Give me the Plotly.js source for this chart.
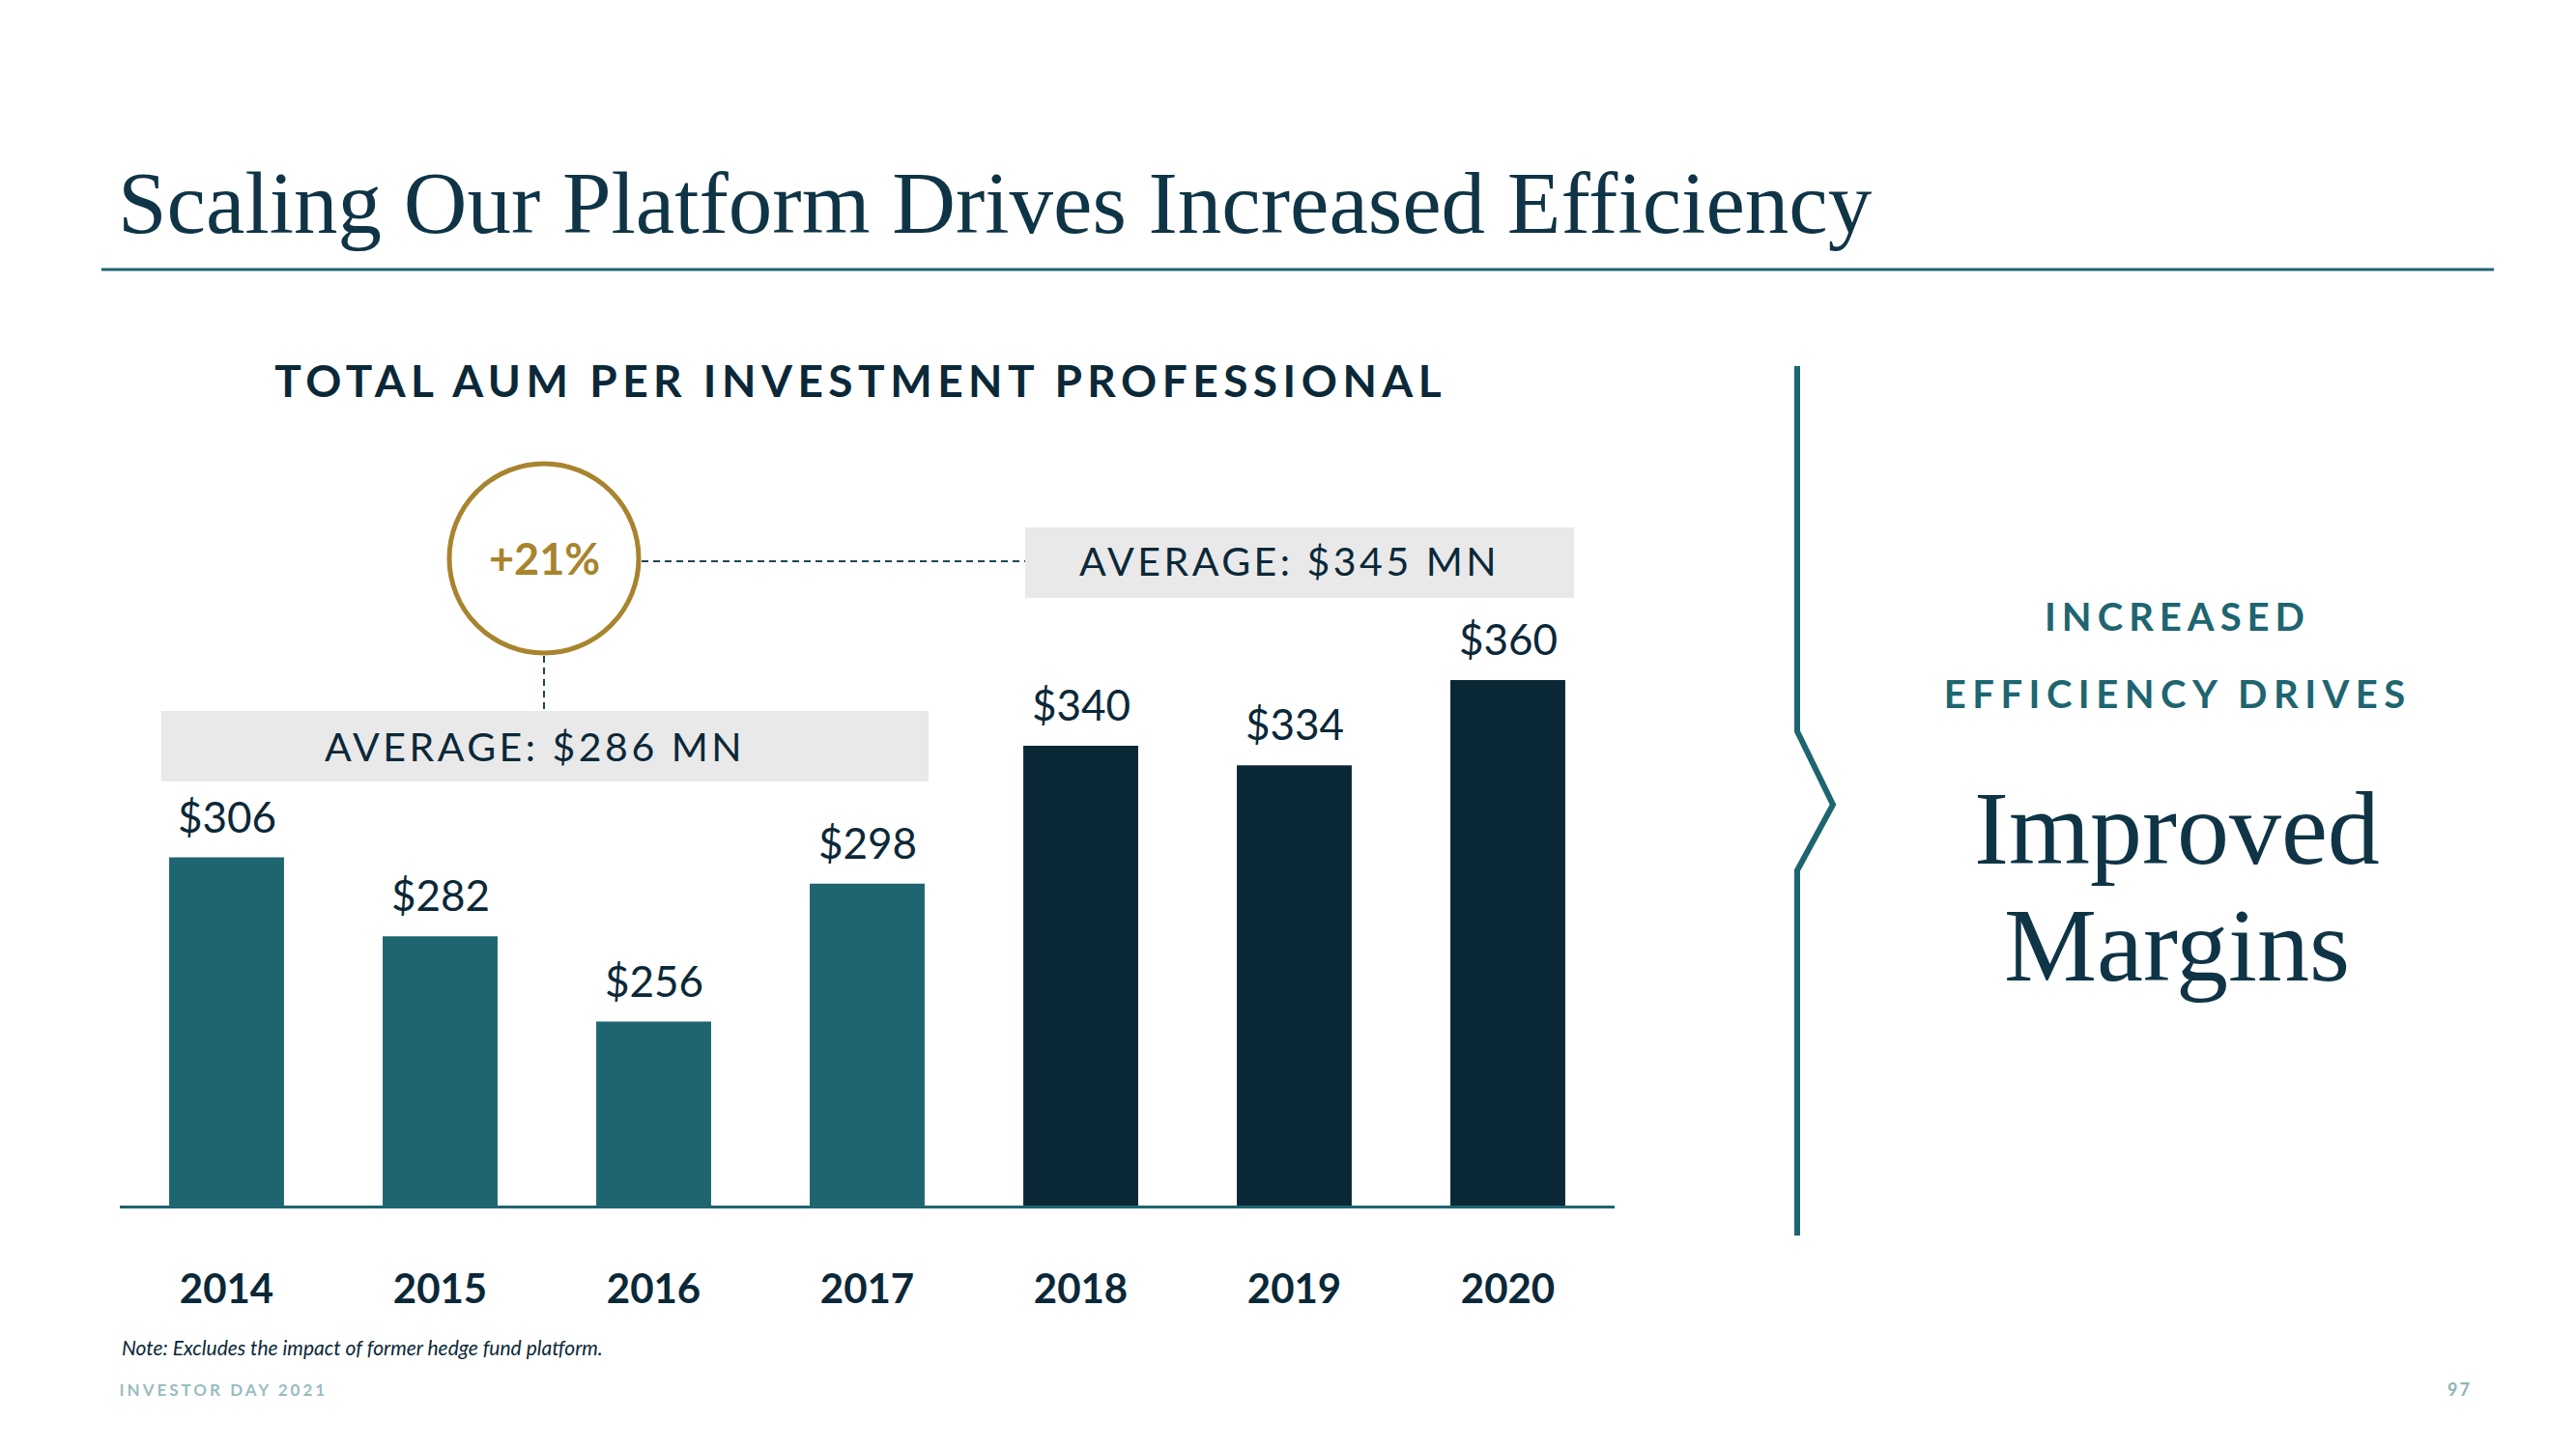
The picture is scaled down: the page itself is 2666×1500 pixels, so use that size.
<!DOCTYPE html>
<html>
<head>
<meta charset="utf-8">
<script src="https://cdn.plot.ly/plotly-3.0.1.min.js"></script>
<style>
  html, body { margin: 0; padding: 0; background: #ffffff; }
  #chart { width: 2666px; height: 1500px; }
</style>
</head>
<body>
<div id="chart"></div>
<script>
// ---- data ----
const years = ['2014', '2015', '2016', '2017', '2018', '2019', '2020'];
const aumPerPro = [306, 282, 256, 298, 340, 334, 360];
const periodGroup = ['early', 'early', 'early', 'early', 'late', 'late', 'late'];
const averages = [286, 345];
const growthPct = 21;

// ---- styling ----
const TEAL = '#1e6570';
const NAVY = '#0a2736';
const TEXT = '#0b2838';
const GOLD = '#a8842f';
const GRAY = '#e9e9e9';
const SANS = 'Lato, "Open Sans", sans-serif';
const SERIF = '"Liberation Serif", "DejaVu Serif", serif';
const W = 2666, H = 1500;
const px = x => x / W;
const py = y => 1 - y / H;

const barColors = periodGroup.map(g => g === 'early' ? TEAL : NAVY);

const trace = {
  type: 'bar',
  x: years,
  y: aumPerPro,
  marker: { color: barColors, line: { width: 0 } },
  hoverinfo: 'x+y',
  showlegend: false
};

const annotations = [];
// value labels above bars (category axis: position by category index)
years.forEach((yr, i) => {
  annotations.push({
    x: i, y: aumPerPro[i], xref: 'x', yref: 'y',
    text: '$' + aumPerPro[i], showarrow: false,
    yshift: 43, xanchor: 'center', yanchor: 'middle',
    font: { family: SANS, size: 44, color: TEXT }
  });
});

function txt(text, x, y, font, xanchor) {
  annotations.push({
    xref: 'paper', yref: 'paper', x: x, y: y, text: text, showarrow: false,
    xanchor: xanchor || 'center', yanchor: 'middle', font: font
  });
}

// Title & subtitle
txt('Scaling Our Platform Drives Increased Efficiency', px(120), py(210),
    { family: SERIF, size: 91, color: '#0f3446' }, 'left');
txt('TOTAL AUM PER INVESTMENT PROFESSIONAL', px(891), py(394),
    { family: SANS, size: 46, color: TEXT, weight: 700 });

// Average labels
txt('AVERAGE: $' + averages[0] + ' MN', px(553), py(772),
    { family: SANS, size: 41, color: TEXT });
txt('AVERAGE: $' + averages[1] + ' MN', px(1334), py(580),
    { family: SANS, size: 41, color: TEXT });
txt('+' + growthPct + '%', px(563), py(578),
    { family: SANS, size: 45, color: GOLD, weight: 700 });

// Right side
txt('INCREASED', px(2253), py(638), { family: SANS, size: 40, color: TEAL, weight: 700 });
txt('EFFICIENCY DRIVES', px(2253), py(718), { family: SANS, size: 40, color: TEAL, weight: 700 });
txt('Improved', px(2253), py(858), { family: SERIF, size: 108, color: '#0f3446' });
txt('Margins', px(2253), py(978), { family: SERIF, size: 108, color: '#0f3446' });

// Footer
txt('Note: Excludes the impact of former hedge fund platform.', px(124), py(1394),
    { family: SANS, size: 21, color: TEXT, style: 'italic' }, 'left');
txt('INVESTOR DAY 2021', px(231), py(1438),
    { family: SANS, size: 17, color: '#99bcbf', weight: 700 });
txt('97', px(2545), py(1438),
    { family: SANS, size: 18, color: '#8fb3b6', weight: 700 });

const shapes = [
  // title rule
  { type: 'line', xref: 'paper', yref: 'paper', x0: px(105), x1: px(2581), y0: py(279), y1: py(279),
    line: { color: TEAL, width: 3 } },
  // gray average boxes
  { type: 'rect', xref: 'paper', yref: 'paper', x0: px(167), x1: px(961), y0: py(809), y1: py(736),
    fillcolor: GRAY, line: { width: 0 }, layer: 'below' },
  { type: 'rect', xref: 'paper', yref: 'paper', x0: px(1061), x1: px(1629), y0: py(619), y1: py(546),
    fillcolor: GRAY, line: { width: 0 }, layer: 'below' },
  // growth circle
  { type: 'circle', xref: 'paper', yref: 'paper', x0: px(465), x1: px(661), y0: py(676), y1: py(480),
    line: { color: GOLD, width: 5 }, fillcolor: 'rgba(0,0,0,0)' },
  // dashed connectors
  { type: 'line', xref: 'paper', yref: 'paper', x0: px(664), x1: px(1061), y0: py(581), y1: py(581),
    line: { color: '#1d4756', width: 2, dash: '7px,5px' } },
  { type: 'line', xref: 'paper', yref: 'paper', x0: px(563), x1: px(563), y0: py(679), y1: py(736),
    line: { color: '#1d4756', width: 2, dash: '7px,5px' } },
  // chevron divider
  { type: 'path', xref: 'paper', yref: 'paper',
    path: 'M ' + px(1860) + ',' + py(379) + ' L ' + px(1860) + ',' + py(757) +
          ' L ' + px(1897) + ',' + py(833) + ' L ' + px(1860) + ',' + py(901) +
          ' L ' + px(1860) + ',' + py(1279),
    line: { color: TEAL, width: 6 } }
];

const layout = {
  width: W, height: H,
  margin: { l: 0, r: 0, t: 0, b: 0, pad: 0 },
  paper_bgcolor: '#ffffff', plot_bgcolor: '#ffffff',
  bargap: 0.462,
  showlegend: false,
  xaxis: {
    type: 'category',
    domain: [px(124), px(1671)],
    range: [-0.5, 6.5],
    showline: true, linecolor: TEAL, linewidth: 2.5,
    ticks: '', showgrid: false, zeroline: false,
    tickfont: { family: SANS, size: 42, color: TEXT, weight: 700 },
    ticklabelstandoff: 48,
    fixedrange: true
  },
  yaxis: {
    domain: [py(1248), py(227.8)],
    range: [200, 500],
    showline: false, showticklabels: false, showgrid: false, zeroline: false,
    ticks: '', fixedrange: true
  },
  annotations: annotations,
  shapes: shapes
};

const spacing = {
  'TOTAL AUM PER INVESTMENT PROFESSIONAL': '5.5px',
  'INCREASED': '6px',
  'EFFICIENCY DRIVES': '6.5px',
  'INVESTOR DAY 2021': '3px',
  '97': '2px'
};

Plotly.newPlot('chart', [trace], layout, { displayModeBar: false, staticPlot: true }).then(() => {
  document.querySelectorAll('#chart .annotation-text').forEach(el => {
    const t = el.textContent;
    if (spacing[t]) el.style.letterSpacing = spacing[t];
    else if (t.indexOf('AVERAGE:') === 0) el.style.letterSpacing = '3.5px';
  });
});
</script>
</body>
</html>
